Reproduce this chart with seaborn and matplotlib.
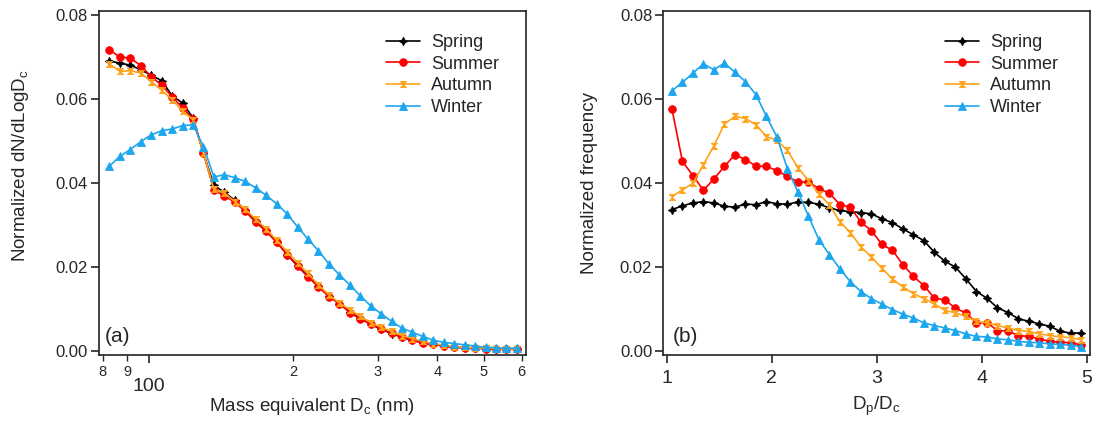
import numpy as np
import pandas as pd
import matplotlib
matplotlib.use("Agg")
import matplotlib.pyplot as plt
from matplotlib.ticker import FixedLocator, FixedFormatter, FormatStrFormatter, NullFormatter
import seaborn as sns

# ---------------- data ----------------
seasons = ["Spring", "Summer", "Autumn", "Winter"]

# panel (a): mass equivalent Dc (nm)
dc_nm = [82.5, 86.8, 91.3, 96.0, 100.9, 106.2, 111.6, 117.4, 123.5, 129.8,
         136.5, 143.6, 151.0, 158.7, 166.9, 175.5, 184.6, 194.1, 204.1, 214.6,
         225.7, 237.3, 249.6, 262.4, 276.0, 290.2, 305.2, 320.9, 337.4, 354.8,
         373.2, 392.4, 412.6, 433.9, 456.3, 479.8, 504.6, 530.5, 557.9, 586.7]

a_spring = [0.0690, 0.0685, 0.0680, 0.0669, 0.0656, 0.0643, 0.0607, 0.0590, 0.0554, 0.0470,
            0.0394, 0.0377, 0.0358, 0.0335, 0.0310, 0.0287, 0.0260, 0.0229, 0.0203, 0.0178,
            0.0154, 0.0131, 0.0112, 0.0093, 0.0077, 0.0063, 0.0051, 0.0041, 0.0032, 0.0025,
            0.0019, 0.0015, 0.0011, 0.0009, 0.0007, 0.0006, 0.0005, 0.0004, 0.0004, 0.0003]
a_summer = [0.0717, 0.0699, 0.0697, 0.0679, 0.0653, 0.0632, 0.0605, 0.0578, 0.0552, 0.0470,
            0.0382, 0.0369, 0.0353, 0.0332, 0.0306, 0.0284, 0.0258, 0.0229, 0.0201, 0.0176,
            0.0152, 0.0129, 0.0112, 0.0091, 0.0076, 0.0064, 0.0052, 0.0042, 0.0033, 0.0025,
            0.0018, 0.0015, 0.0011, 0.0008, 0.0007, 0.0006, 0.0005, 0.0004, 0.0004, 0.0003]
a_autumn = [0.0683, 0.0665, 0.0667, 0.0661, 0.0641, 0.0620, 0.0598, 0.0570, 0.0550, 0.0472,
            0.0384, 0.0375, 0.0355, 0.0337, 0.0313, 0.0290, 0.0263, 0.0236, 0.0210, 0.0184,
            0.0157, 0.0133, 0.0114, 0.0098, 0.0082, 0.0067, 0.0056, 0.0046, 0.0036, 0.0029,
            0.0022, 0.0017, 0.0013, 0.0010, 0.0008, 0.0007, 0.0006, 0.0005, 0.0004, 0.0004]
a_winter = [0.0439, 0.0463, 0.0479, 0.0498, 0.0514, 0.0524, 0.0528, 0.0536, 0.0538, 0.0486,
            0.0414, 0.0419, 0.0412, 0.0403, 0.0388, 0.0370, 0.0350, 0.0326, 0.0295, 0.0266,
            0.0238, 0.0207, 0.0181, 0.0157, 0.0131, 0.0107, 0.0088, 0.0070, 0.0054, 0.0044,
            0.0034, 0.0025, 0.0020, 0.0017, 0.0014, 0.0011, 0.0008, 0.0007, 0.0006, 0.0006]

# panel (b): Dp/Dc
dp_dc = [1.05, 1.15, 1.25, 1.35, 1.45, 1.55, 1.65, 1.75, 1.85, 1.95,
         2.05, 2.15, 2.25, 2.35, 2.45, 2.55, 2.65, 2.75, 2.85, 2.95,
         3.05, 3.15, 3.25, 3.35, 3.45, 3.55, 3.65, 3.75, 3.85, 3.95,
         4.05, 4.15, 4.25, 4.35, 4.45, 4.55, 4.65, 4.75, 4.85, 4.95]

b_spring = [0.0336, 0.0345, 0.0352, 0.0355, 0.0352, 0.0344, 0.0342, 0.0349, 0.0348, 0.0355,
            0.0350, 0.0349, 0.0354, 0.0353, 0.0349, 0.0340, 0.0334, 0.0331, 0.0329, 0.0326,
            0.0314, 0.0305, 0.0290, 0.0276, 0.0262, 0.0234, 0.0213, 0.0199, 0.0171, 0.0141,
            0.0125, 0.0102, 0.0091, 0.0076, 0.0070, 0.0064, 0.0058, 0.0046, 0.0042, 0.0042]
b_summer = [0.0576, 0.0451, 0.0417, 0.0382, 0.0409, 0.0439, 0.0467, 0.0455, 0.0440, 0.0439,
            0.0429, 0.0415, 0.0402, 0.0402, 0.0386, 0.0375, 0.0348, 0.0342, 0.0306, 0.0286,
            0.0253, 0.0239, 0.0205, 0.0177, 0.0155, 0.0125, 0.0121, 0.0101, 0.0090, 0.0066,
            0.0067, 0.0048, 0.0047, 0.0036, 0.0034, 0.0028, 0.0022, 0.0020, 0.0019, 0.0014]
b_autumn = [0.0367, 0.0383, 0.0399, 0.0443, 0.0488, 0.0540, 0.0558, 0.0553, 0.0538, 0.0510,
            0.0501, 0.0477, 0.0436, 0.0405, 0.0374, 0.0347, 0.0307, 0.0281, 0.0247, 0.0223,
            0.0196, 0.0171, 0.0152, 0.0136, 0.0124, 0.0111, 0.0096, 0.0090, 0.0082, 0.0070,
            0.0066, 0.0060, 0.0054, 0.0048, 0.0046, 0.0040, 0.0036, 0.0033, 0.0031, 0.0026]
b_winter = [0.0619, 0.0639, 0.0661, 0.0683, 0.0669, 0.0685, 0.0663, 0.0641, 0.0610, 0.0558,
            0.0509, 0.0433, 0.0378, 0.0321, 0.0264, 0.0229, 0.0195, 0.0164, 0.0141, 0.0124,
            0.0111, 0.0098, 0.0087, 0.0078, 0.0066, 0.0060, 0.0054, 0.0048, 0.0040, 0.0034,
            0.0033, 0.0028, 0.0026, 0.0022, 0.0020, 0.0019, 0.0016, 0.0015, 0.0013, 0.0010]

a_major_ticks = [100]
a_major_labels = ["100"]
a_minor_ticks = [80, 90, 200, 300, 400, 500, 600]
a_minor_labels = ["8", "9", "2", "3", "4", "5", "6"]
b_ticks = [1, 2, 3, 4, 5]
y_ticks = [0.00, 0.02, 0.04, 0.06, 0.08]

# ---------------- style ----------------
sns.set_style("ticks")
plt.rcParams["font.family"] = ["Liberation Sans", "DejaVu Sans"]
plt.rcParams["mathtext.default"] = "regular"

colors = {"Spring": "#000000", "Summer": "#FF0000", "Autumn": "#FFA31A", "Winter": "#1CA6EE"}
hourglass = [(-1, 1), (1, 1), (-1, -1), (1, -1), (-1, 1)]
markers = {"Spring": (4, 1, 0), "Summer": "o", "Autumn": hourglass, "Winter": "^"}
msizes = {"Spring": 6, "Summer": 5.5, "Autumn": 4.5, "Winter": 5.5}

df_a = pd.DataFrame({"Dc": dc_nm * 4,
                     "val": a_spring + a_summer + a_autumn + a_winter,
                     "season": sum([[s] * len(dc_nm) for s in seasons], [])})
df_b = pd.DataFrame({"ratio": dp_dc * 4,
                     "val": b_spring + b_summer + b_autumn + b_winter,
                     "season": sum([[s] * len(dp_dc) for s in seasons], [])})

fig = plt.figure(figsize=(10.93, 4.21), dpi=100)
ax1 = fig.add_axes([99 / 1093, 66 / 421, 427 / 1093, 344 / 421])
ax2 = fig.add_axes([663.3 / 1093, 66 / 421, 426.7 / 1093, 344 / 421])

for s in seasons:
    sub = df_a[df_a.season == s]
    sns.lineplot(data=sub, x="Dc", y="val", ax=ax1, color=colors[s], marker=markers[s],
                 markersize=msizes[s], markeredgewidth=0.6, markeredgecolor=colors[s],
                 linewidth=1.2, label=s)
    sub = df_b[df_b.season == s]
    sns.lineplot(data=sub, x="ratio", y="val", ax=ax2, color=colors[s], marker=markers[s],
                 markersize=msizes[s], markeredgewidth=0.6, markeredgecolor=colors[s],
                 linewidth=1.2, label=s)

# ---- panel (a) axes ----
ax1.set_xscale("log")
ax1.set_xlim(78.5, 613)
ax1.xaxis.set_major_locator(FixedLocator(a_major_ticks))
ax1.xaxis.set_major_formatter(FixedFormatter(a_major_labels))
ax1.xaxis.set_minor_locator(FixedLocator(a_minor_ticks))
ax1.xaxis.set_minor_formatter(FixedFormatter(a_minor_labels))
ax1.tick_params(axis="x", which="major", length=6, width=1.2, labelsize=14, pad=10.5, direction="out")
ax1.tick_params(axis="x", which="minor", length=4, width=1.0, labelsize=10.5, pad=3, direction="out")

ax2.set_xlim(0.968, 5.031)
ax2.set_xticks(b_ticks)
ax2.set_xticklabels([str(t) for t in b_ticks])
ax2.tick_params(axis="x", which="major", length=6, width=1.2, labelsize=14, pad=5, direction="out")

for ax in (ax1, ax2):
    ax.set_ylim(-0.00102, 0.0809)
    ax.set_yticks(y_ticks)
    ax.yaxis.set_major_formatter(FormatStrFormatter("%.2f"))
    ax.tick_params(axis="y", which="major", length=6, width=1.2, labelsize=12, pad=2, direction="out")
    for sp in ax.spines.values():
        sp.set_linewidth(1.2)
        sp.set_color("#222222")
    ax.grid(False)

ax1.set_xlabel("Mass equivalent D$_c$ (nm)", fontsize=13.5)
ax1.set_ylabel("Normalized dN/dLogD$_c$", fontsize=13.5)
ax2.set_xlabel("D$_p$/D$_c$", fontsize=13.5)
ax2.set_ylabel("Normalized frequency", fontsize=13.5)
ax1.xaxis.set_label_coords(0.5, -0.118)
ax2.xaxis.set_label_coords(0.5, -0.115)
ax1.yaxis.set_label_coords(-0.16, 0.55)
ax2.yaxis.set_label_coords(-0.152, 0.5)

ax1.text(0.014, 0.038, "(a)", transform=ax1.transAxes, fontsize=15, va="baseline", ha="left")
ax2.text(0.022, 0.038, "(b)", transform=ax2.transAxes, fontsize=15, va="baseline", ha="left")

for ax, xa in ((ax1, 0.672), (ax2, 0.66)):
    ax.legend(loc="upper left", bbox_to_anchor=(xa, 0.933), frameon=False, fontsize=13,
              handlelength=1.9, handletextpad=0.6, labelspacing=0.26, borderpad=0, borderaxespad=0)

fig.savefig("out.png", dpi=100)
